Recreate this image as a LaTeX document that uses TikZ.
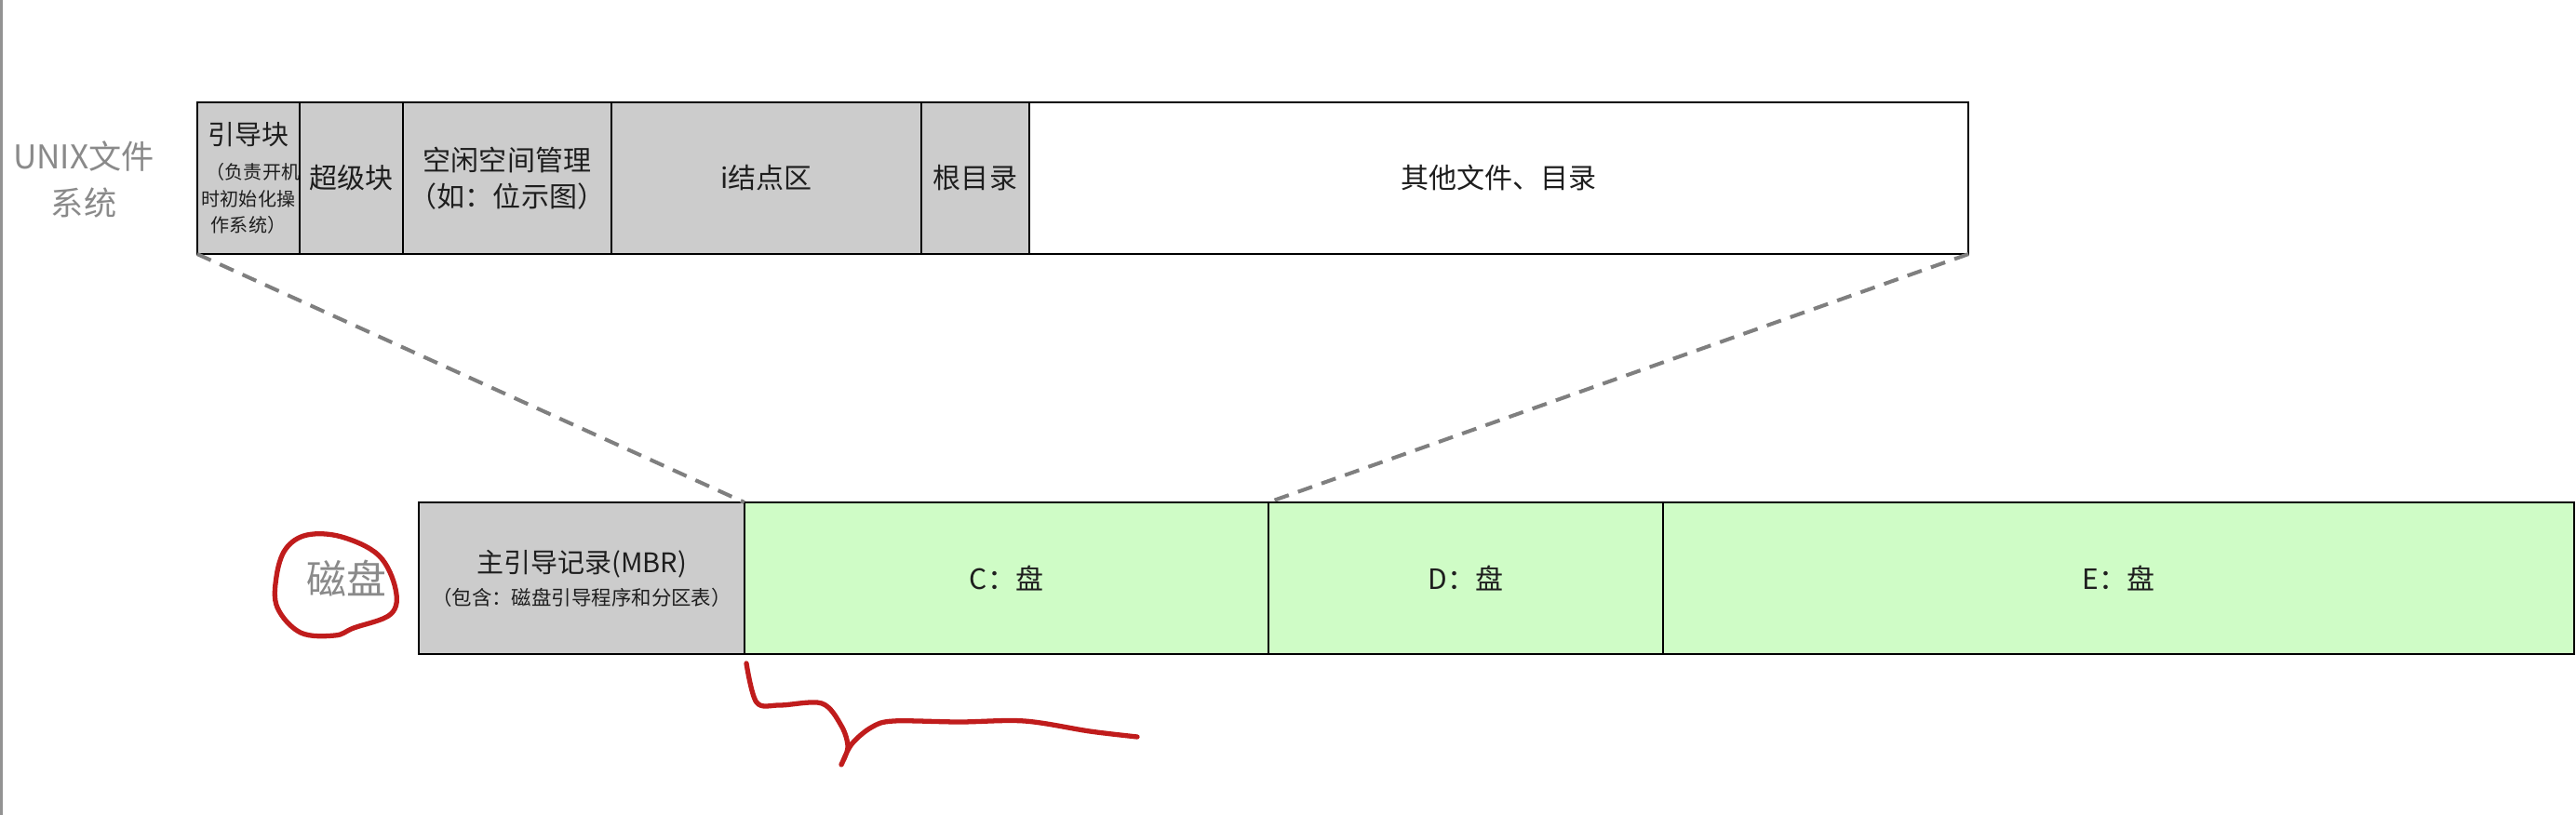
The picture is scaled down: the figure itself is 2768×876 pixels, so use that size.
\documentclass[tikz,border=0pt]{standalone}
\usepackage{fontspec}
\setmainfont{Noto Sans CJK SC}
\definecolor{boxgray}{HTML}{CCCCCC}
\definecolor{diskgreen}{HTML}{CFFCC6}
\definecolor{labelgray}{HTML}{8A8A8A}
\definecolor{textdark}{HTML}{1E1E1E}
\definecolor{redpen}{RGB}{192,28,28}
\definecolor{dashgray}{HTML}{7F7F7F}
\tikzset{
  blk/.style={draw=black, line width=0.6pt, inner sep=0pt, outer sep=0pt,
    minimum height=1.63cm, text=textdark, align=center,
    font=\fontsize{8.54pt}{11pt}\selectfont},
  topblk/.style={blk, fill=boxgray},
  diskblk/.style={blk, fill=diskgreen},
  sidelabel/.style={text=labelgray, align=center, inner sep=0pt},
  zoomline/.style={draw=dashgray, line width=1.15pt, dash pattern=on 4.6pt off 3pt},
  penstroke/.style={draw=redpen, line width=1.5pt, line cap=round, line join=round}
}
\begin{document}
\begin{tikzpicture}[x=0.01cm, y=-0.01cm]
\useasboundingbox (0,0) rectangle (2768,876);
\fill[white] (0,0) rectangle (2768,876);
\draw[color=gray!85, line width=0.8pt] (1.5,0) -- (1.5,876);

% UNIX file system row
\node[sidelabel, font=\fontsize{10pt}{14pt}\selectfont] (unixlabel) at (90,193) {UNIX文件\\系统};
\node[topblk, minimum width=1.10cm, font=\fontsize{5.7pt}{8pt}\selectfont] (boot) at (267,191.5)
  {{\fontsize{8.25pt}{10pt}\selectfont 引导块}\\[2.5pt]
   \hspace*{0.5em}（负责开机\\时初始化操\\作系统）};
\node[topblk, minimum width=1.11cm] (super) at (377.5,191.5) {超级块};
\node[topblk, minimum width=2.24cm] (free) at (545,191.5) {空闲空间管理\\（如：位示图）};
\node[topblk, minimum width=3.33cm] (inode) at (823.5,191.5) {i结点区};
\node[topblk, minimum width=1.16cm] (root) at (1048,191.5) {根目录};
\node[blk, fill=white, minimum width=10.09cm] (other) at (1610.5,191.5) {其他文件、目录};

% Disk row
\node[sidelabel, font=\fontsize{12.2pt}{14pt}\selectfont] (disklabel) at (372,622) {磁盘};
\node[topblk, minimum width=3.50cm, font=\fontsize{6.1pt}{8pt}\selectfont] (mbr) at (625,621.5)
  {{\fontsize{8.25pt}{10pt}\selectfont 主引导记录(MBR)}\\[2pt]
   （包含：磁盘引导程序和分区表）};
\node[diskblk, minimum width=5.63cm] (cdisk) at (1081.5,621.5) {C：盘};
\node[diskblk, minimum width=4.24cm] (ddisk) at (1575,621.5) {D：盘};
\node[diskblk, minimum width=9.79cm] (edisk) at (2276.5,621.5) {E：盘};

% zoom lines
\draw[zoomline] (boot.south west) -- (cdisk.north west);
\draw[zoomline] (other.south east) -- (ddisk.north west);

% hand-drawn red marks
\draw[penstroke] plot[smooth cycle, tension=0.6] coordinates {
  (330,575) (367,577) (407,597) (425,633) (420,660) (380,675)
  (360,683) (323,680) (298,653) (297,620) (307,590)};
\draw[penstroke] plot[smooth, tension=0.55] coordinates {
  (802,713) (813,755) (838,758) (883,756) (904,780) (911,803)
  (904,822) (915,800) (936,782) (960,775) (1031,776) (1101,775)
  (1171,786) (1222,792)};
\end{tikzpicture}
\end{document}
